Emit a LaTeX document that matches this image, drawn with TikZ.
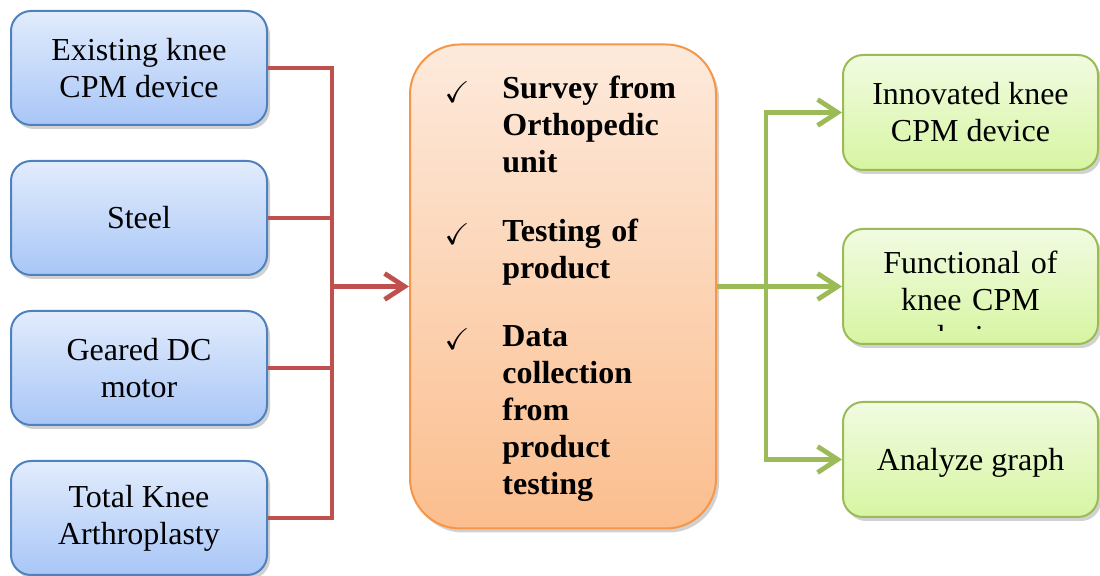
\documentclass[tikz,border=0pt]{standalone}
\usepackage{fontspec}
\setmainfont{Liberation Serif}
\usepackage{amssymb}
\usetikzlibrary{arrows.meta,shadows}

\definecolor{inborder}{HTML}{4F81BD}
\definecolor{intop}{HTML}{E2ECFC}
\definecolor{inbot}{HTML}{A9C6F7}
\definecolor{stborder}{HTML}{F79646}
\definecolor{sttop}{HTML}{FDEADC}
\definecolor{stbot}{HTML}{FBBE8E}
\definecolor{outborder}{HTML}{9BBB59}
\definecolor{outtop}{HTML}{F1FBE1}
\definecolor{outbot}{HTML}{D7F5A2}
\definecolor{redline}{HTML}{C0504D}

\tikzset{
  boxshadow/.style={drop shadow={shadow xshift=1.5pt, shadow yshift=-2pt, opacity=.3, fill=black!60}},
  inbox/.style={draw=inborder, line width=1pt, rounded corners=10pt, top color=intop, bottom color=inbot,
    minimum width=128pt, minimum height=57pt, inner sep=0pt, align=center,
    font=\fontsize{16}{18.5}\selectfont, boxshadow},
  stbox/.style={draw=stborder, line width=1pt, rounded corners=25pt, top color=sttop, bottom color=stbot,
    minimum width=153pt, minimum height=242pt, inner sep=0pt, boxshadow},
  outbox/.style={draw=outborder, line width=1pt, rounded corners=10pt, top color=outtop, bottom color=outbot,
    minimum width=127.5pt, minimum height=57.5pt, inner sep=0pt, align=center,
    font=\fontsize{16}{18.5}\selectfont, boxshadow},
  chk/.style={inner sep=0pt, font=\fontsize{15}{15}\selectfont},
  item/.style={anchor=base west, inner sep=0pt, text width=105pt, align=left,
    font=\fontsize{16}{18.5}\selectfont\bfseries},
  redwire/.style={draw=redline, line width=2.4pt},
  greenwire/.style={draw=outborder, line width=2.4pt},
  barb/.style={-{Straight Barb[length=10pt, width=13pt]}}
}

\begin{document}
\begin{tikzpicture}[x=0.5pt, y=-0.5pt]
  \useasboundingbox (0,0) rectangle (1100,576);

  % inputs
  \node[inbox] (exist) at (139,68)  {Existing knee\\CPM device};
  \node[inbox] (steel) at (139,218) {Steel};
  \node[inbox] (motor) at (139,368) {Geared DC\\motor};
  \node[inbox] (tka)   at (139,518) {Total Knee\\Arthroplasty};

  % study
  \node[stbox] (study) at (563,286.5) {};
  \node[chk] (chk1) at (457,92)  {$\checkmark$};
  \node[chk] (chk2) at (457,234) {$\checkmark$};
  \node[chk] (chk3) at (457,339) {$\checkmark$};
  \node[item] (survey) at (502,99)  {Survey from\\Orthopedic\\unit};
  \node[item] (test)   at (502,242) {Testing of\\product};
  \node[item] (data)   at (502,347) {Data\\collection\\from\\product\\testing};

  % outputs
  \node[outbox] (innov) at (970.5,112.5) {Innovated knee\\CPM device};
  \node[outbox] (fnc)   at (970.5,286.5) {};
  \begin{scope}
    \clip (843,229) rectangle (1098,331);
    \node[inner sep=0pt, text width=127pt, align=center, font=\fontsize{16}{18.5}\selectfont, anchor=base]
      (fnctext) at (970.5,274) {Functional of\\knee CPM\\device};
  \end{scope}
  \node[outbox, text depth=0pt] (graph) at (970.5,459.5) {Analyze graph};

  % connectors
  \coordinate (rj) at (332,286.5);
  \coordinate (gj) at (766,286.5);
  \draw[redwire] (exist.east) -| (rj);
  \draw[redwire] (steel.east) -| (rj);
  \draw[redwire] (motor.east) -| (rj);
  \draw[redwire] (tka.east) -| (rj);
  \draw[redwire, barb] (rj) -- (study.west);

  \draw[greenwire, barb] (study.east) -- (fnc.west);
  \draw[greenwire, barb] (gj) |- (innov.west);
  \draw[greenwire, barb] (gj) |- (graph.west);
\end{tikzpicture}
\end{document}
